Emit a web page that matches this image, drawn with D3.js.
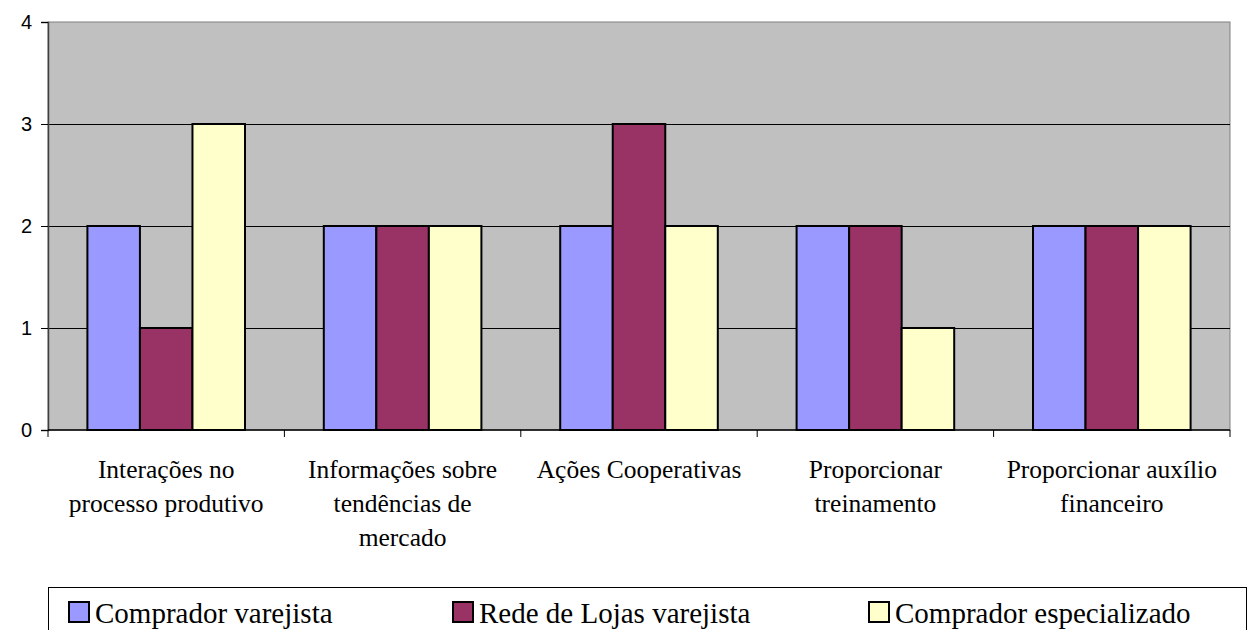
<!DOCTYPE html>
<html><head><meta charset="utf-8">
<script src="https://cdn.jsdelivr.net/npm/d3@7"></script>
</head><body style="margin:0;background:#fff">
<svg id="c" width="1250" height="630" style="display:block"></svg>
<script>
const categories = [["Interações no","processo produtivo"],["Informações sobre","tendências de","mercado"],["Ações Cooperativas"],["Proporcionar","treinamento"],["Proporcionar auxílio","financeiro"]];
const seriesNames = ["Comprador varejista","Rede de Lojas varejista","Comprador especializado"];
const compradorVarejista = [2,2,2,2,2];
const redeLojas = [1,2,3,2,2];
const compradorEspecializado = [3,2,2,1,2];
const yTicks = [0,1,2,3,4];
const colors = ["#9999FF","#993366","#FFFFCC"];
const series = [compradorVarejista, redeLojas, compradorEspecializado];

const SERIF = "'Liberation Serif', 'Times New Roman', serif";
const SANS = "'Liberation Sans', Arial, sans-serif";
const svg = d3.select("#c");
const L=48, R=1230, T=22, B=430;
const x = d3.scaleBand().domain(d3.range(categories.length)).range([L,R]).paddingInner(0).paddingOuter(0);
const inner = d3.scaleBand().domain(d3.range(series.length)).range([0,x.bandwidth()]).paddingInner(0).paddingOuter(0.75);
const y = d3.scaleLinear().domain([0,4]).range([B,T]);

svg.append("rect").attr("x",L).attr("y",T).attr("width",R-L).attr("height",B-T).attr("fill","#C0C0C0").attr("stroke","#808080").attr("stroke-width",1);

// gridlines
svg.append("g").selectAll("line").data(yTicks.filter(d=>d>0&&d<4)).join("line")
  .attr("x1",L).attr("x2",R).attr("y1",d=>y(d)+0.5).attr("y2",d=>y(d)+0.5).attr("stroke","#000").attr("stroke-width",1);

// bars
series.forEach((s,si)=>{
  svg.append("g").selectAll("rect").data(s).join("rect")
    .attr("x",(d,i)=>x(i)+inner(si))
    .attr("y",d=>y(d))
    .attr("width",inner.bandwidth())
    .attr("height",d=>B-y(d))
    .attr("fill",colors[si]).attr("stroke","#000").attr("stroke-width",2);
});

// y axis
const ya = svg.append("g").attr("transform",`translate(${L},0)`)
  .call(d3.axisLeft(y).tickValues(yTicks).tickFormat(d3.format("d")).tickSize(7).tickPadding(9));
ya.attr("font-family",SANS).attr("font-size",20);
ya.select(".domain").attr("stroke","#404040").attr("stroke-width",1.5);
ya.selectAll("text").style("font-family",SANS,"important").style("font-size","20px","important").attr("fill","#000");
ya.selectAll(".tick line").attr("stroke","#000");

// x axis baseline and ticks at boundaries
svg.append("line").attr("x1",L).attr("x2",R).attr("y1",B).attr("y2",B).attr("stroke","#000").attr("stroke-width",1.5);
const bounds = d3.range(categories.length+1).map(i=> i<categories.length? x(i) : R);
svg.append("g").selectAll("line").data(bounds).join("line")
  .attr("x1",d=>d).attr("x2",d=>d).attr("y1",B).attr("y2",B+7).attr("stroke","#000");

// category labels
const lab = svg.append("g").attr("font-family",SERIF).attr("font-size",25.5)
  .selectAll("text").data(categories).join("text")
  .attr("x",(d,i)=>x(i)+x.bandwidth()/2).attr("y",478)
  .attr("text-anchor","middle")
  .style("font-family",SERIF,"important").style("font-size","25.5px","important").attr("fill","#000");
lab.each(function(d){
  const t=d3.select(this);
  d.forEach((line,j)=>t.append("tspan").attr("x",t.attr("x")).attr("dy",j===0?0:34).text(line));
});

// legend
svg.append("rect").attr("x",48.5).attr("y",587.5).attr("width",1198).attr("height",60).attr("fill","#fff").attr("stroke","#000").attr("stroke-width",1);
const legX = [69,453,869];
const lg = svg.append("g").attr("font-family",SERIF).attr("font-size",29)
  .selectAll("g").data(seriesNames).join("g").attr("transform",(d,i)=>`translate(${legX[i]},602)`);
lg.append("rect").attr("x",0).attr("y",0).attr("width",20).attr("height",20).attr("fill",(d,i)=>colors[i]).attr("stroke","#000").attr("stroke-width",2);
lg.append("text").attr("x",26).attr("y",21)
  .style("font-family",SERIF,"important").style("font-size","29px","important").attr("fill","#000").text(d=>d);
</script>
</body></html>
